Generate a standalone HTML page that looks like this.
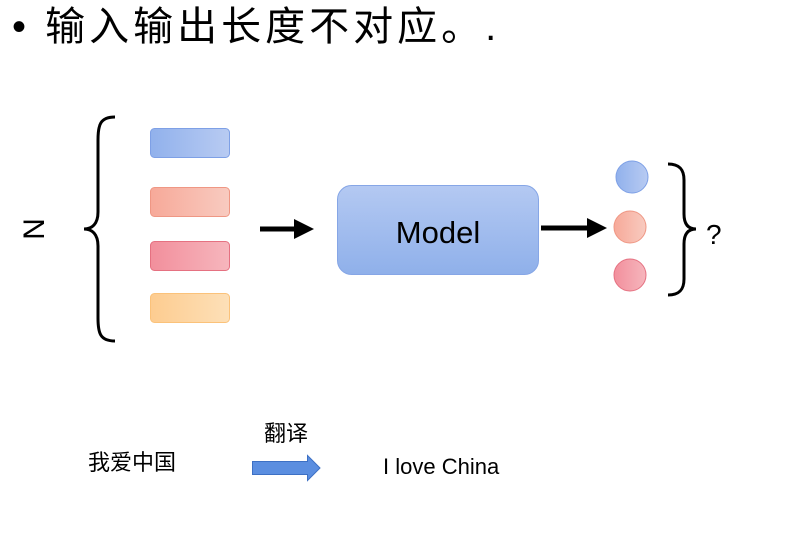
<!DOCTYPE html>
<html><head><meta charset="utf-8"><style>
html,body{margin:0;padding:0;background:#fff;}
</style></head><body>
<svg width="801" height="550" xmlns="http://www.w3.org/2000/svg" style="display:block">
<defs>
<linearGradient id="gb" x1="0" x2="1"><stop offset="0" stop-color="#91b1ec"/><stop offset="1" stop-color="#b8cbf2"/></linearGradient>
<linearGradient id="go" x1="0" x2="1"><stop offset="0" stop-color="#f7a999"/><stop offset="1" stop-color="#f8cbc0"/></linearGradient>
<linearGradient id="gr" x1="0" x2="1"><stop offset="0" stop-color="#f28f9c"/><stop offset="1" stop-color="#f6b6bd"/></linearGradient>
<linearGradient id="gy" x1="0" x2="1"><stop offset="0" stop-color="#fdcc90"/><stop offset="1" stop-color="#fde0b8"/></linearGradient>
<linearGradient id="gm" x1="0" x2="0" y1="0" y2="1"><stop offset="0" stop-color="#b4c9f2"/><stop offset="1" stop-color="#8fb0ea"/></linearGradient>
</defs>
<text x="12" y="40" font-family="Liberation Sans, Noto Sans CJK SC, sans-serif" font-size="40" letter-spacing="4" fill="#000">• 输入输出长度不对应。.</text>

<text transform="translate(33,229) rotate(90)" x="0" y="0" text-anchor="middle" dominant-baseline="central" font-family="Liberation Sans, sans-serif" font-size="30" fill="#000">N</text>
<path d="M115,117 C100,117 98,125 98,140 L98,212 C98,224 92,229 84,229 C92,229 98,234 98,246 L98,318 C98,333 100,341 115,341" fill="none" stroke="#000" stroke-width="3"/>

<rect x="150.5" y="128.5" width="79" height="29" rx="4" fill="url(#gb)" stroke="#7ea0e6"/>
<rect x="150.5" y="187.5" width="79" height="29" rx="4" fill="url(#go)" stroke="#ef9784"/>
<rect x="150.5" y="241.5" width="79" height="29" rx="4" fill="url(#gr)" stroke="#e57181"/>
<rect x="150.5" y="293.5" width="79" height="29" rx="4" fill="url(#gy)" stroke="#fbc27a"/>

<line x1="260" y1="229" x2="296" y2="229" stroke="#000" stroke-width="5"/>
<polygon points="294,219 314,229 294,239" fill="#000"/>

<rect x="337.5" y="185.5" width="201" height="89" rx="14" fill="url(#gm)" stroke="#86a6e6"/>
<text x="438" y="243" text-anchor="middle" font-family="Liberation Sans, sans-serif" font-size="31" fill="#000">Model</text>

<line x1="541" y1="228" x2="590" y2="228" stroke="#000" stroke-width="5"/>
<polygon points="587,218 607,228 587,238" fill="#000"/>

<circle cx="632" cy="177" r="16" fill="url(#gb)" stroke="#7ea0e6"/>
<circle cx="630" cy="227" r="16" fill="url(#go)" stroke="#ef9784"/>
<circle cx="630" cy="275" r="16" fill="url(#gr)" stroke="#e57181"/>

<path d="M668,164 C680,164 684,170 684,180 L684,214 C684,224 688,229 696,229 C688,229 684,234 684,244 L684,279 C684,289 680,295 668,295" fill="none" stroke="#000" stroke-width="3"/>
<text x="706" y="244" font-family="Liberation Sans, sans-serif" font-size="28" fill="#000">?</text>

<text x="88" y="470" font-family="Liberation Sans, Noto Sans CJK SC, sans-serif" font-size="22" fill="#000">我爱中国</text>
<text x="264" y="441" font-family="Liberation Sans, Noto Sans CJK SC, sans-serif" font-size="22" fill="#000">翻译</text>
<polygon points="252.5,461.5 307.5,461.5 307.5,455.5 320,468 307.5,480.5 307.5,474.5 252.5,474.5" fill="#5b8ee0" stroke="#3d70c4"/>
<text x="383" y="474" font-family="Liberation Sans, sans-serif" font-size="22" fill="#000">I love China</text>
</svg>
</body></html>
